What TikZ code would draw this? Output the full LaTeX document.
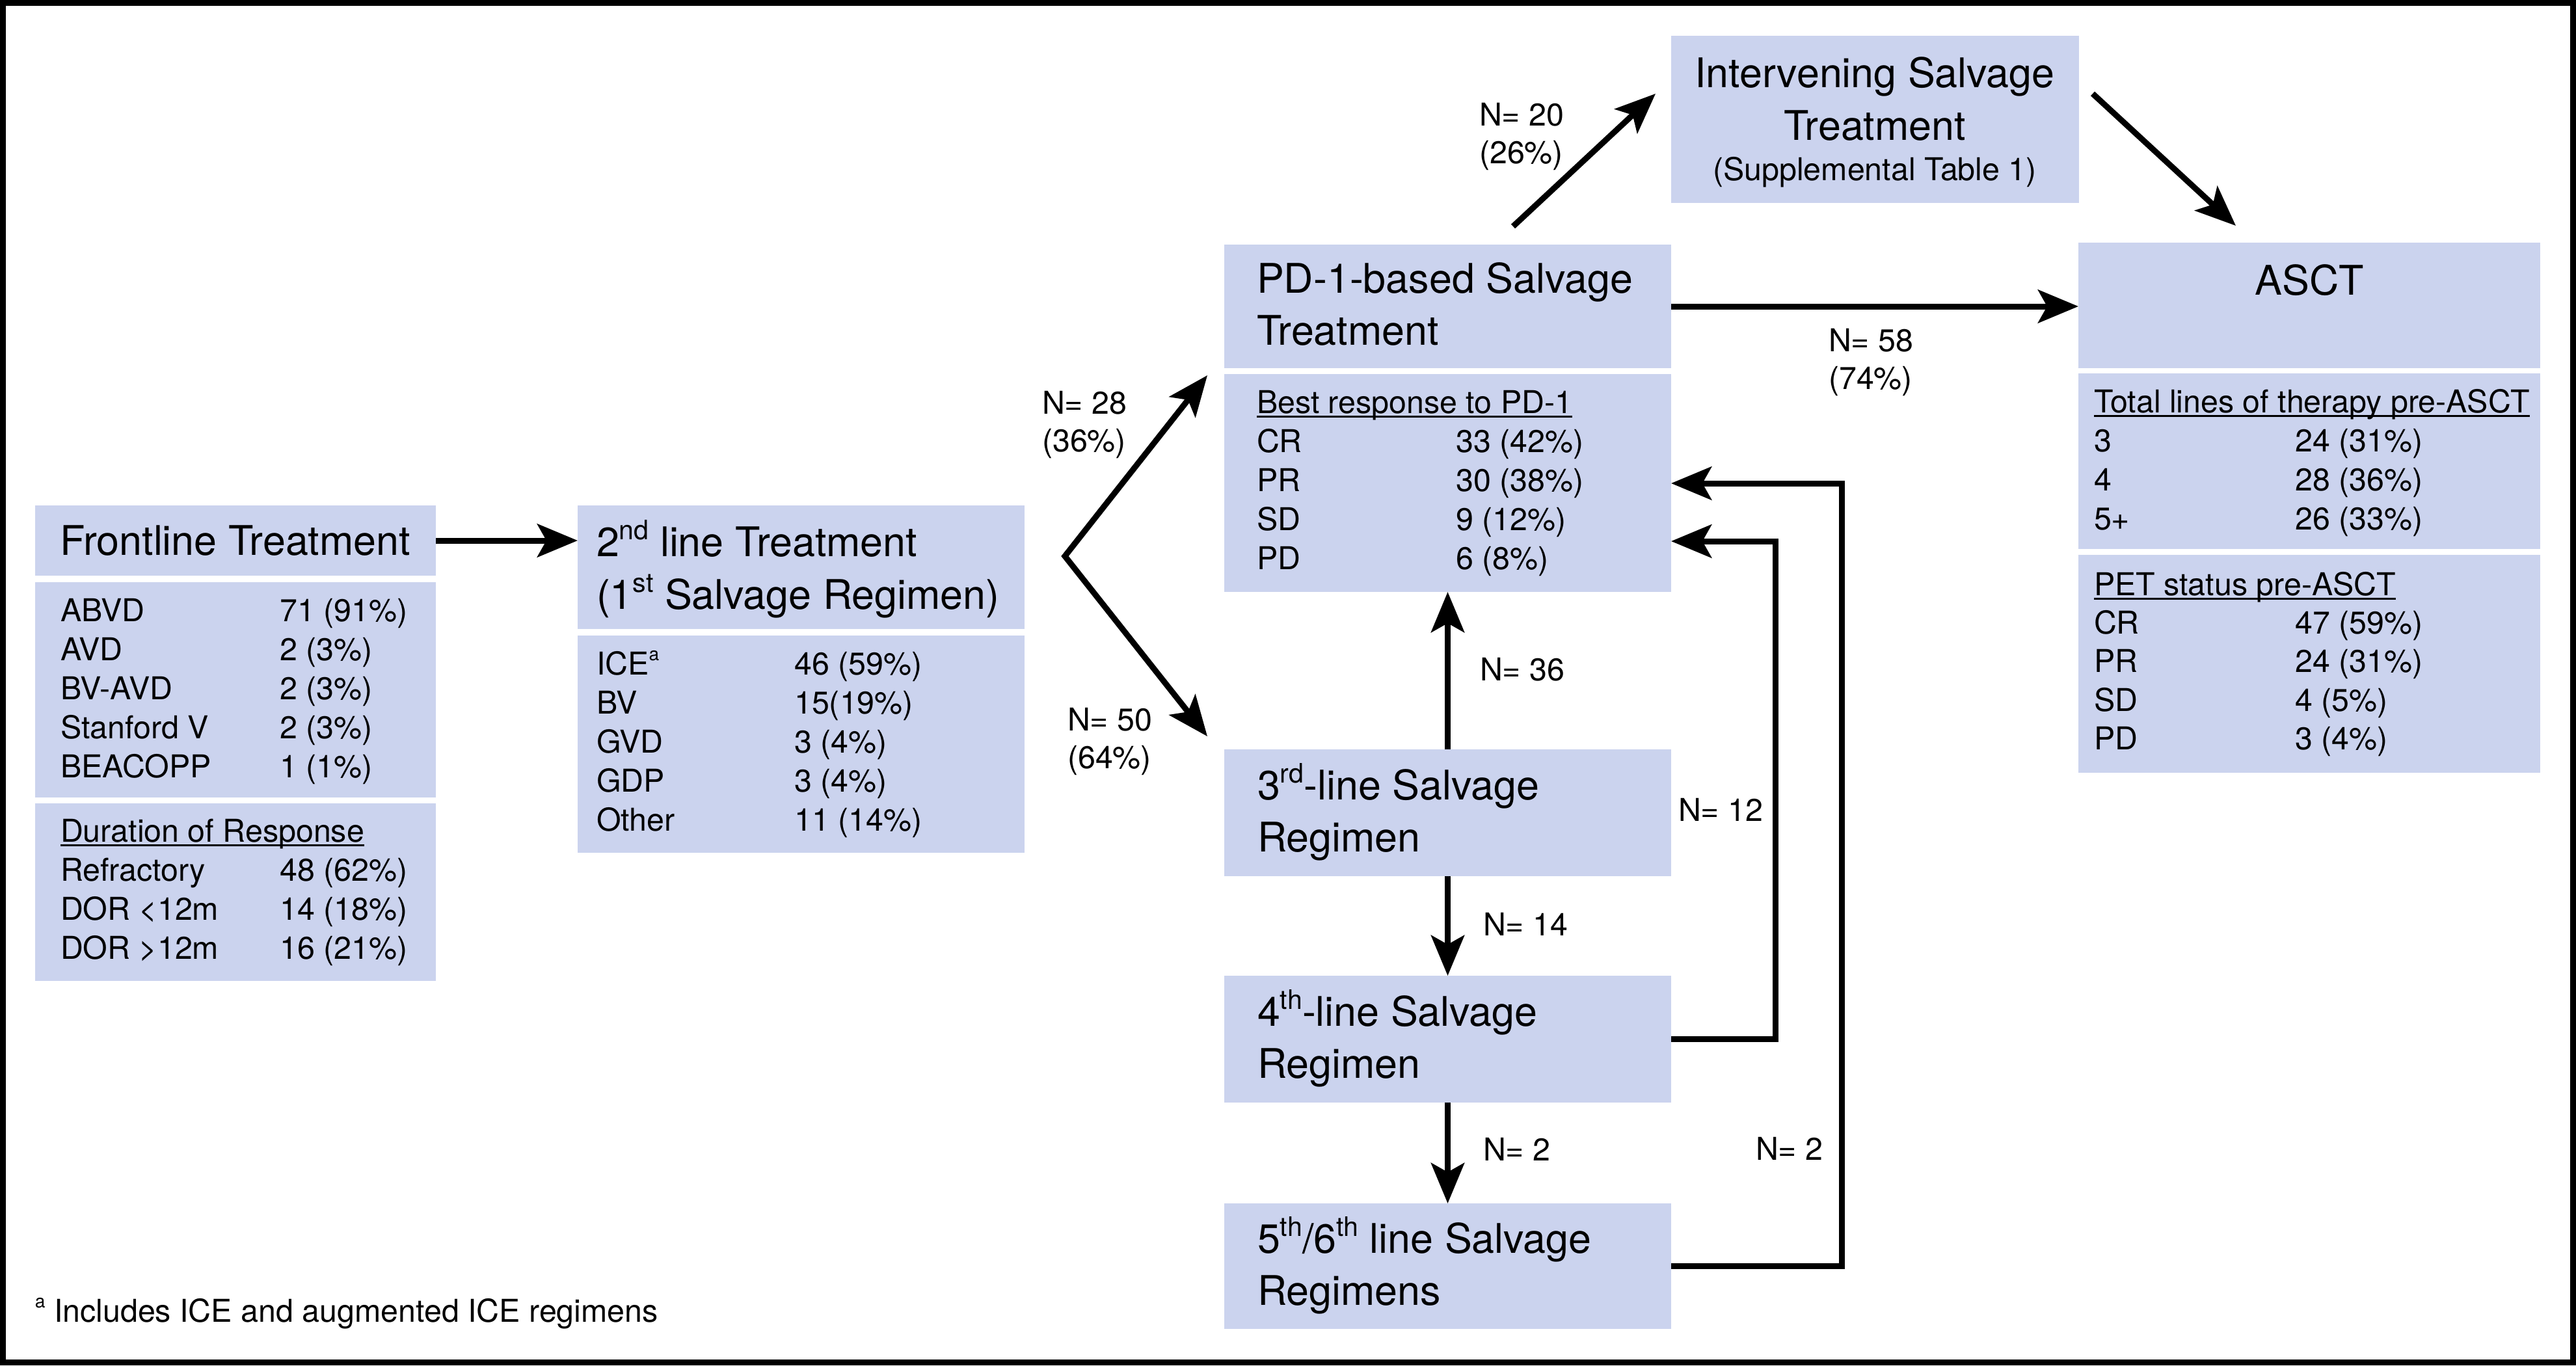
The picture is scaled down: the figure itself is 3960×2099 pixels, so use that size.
\documentclass[tikz,border=0pt]{standalone}
\usepackage{fontspec}
\setmainfont{TeX Gyre Heros}
\usetikzlibrary{arrows.meta,fit,calc}
\definecolor{boxc}{RGB}{203,211,238}
\newcommand\ttl{\fontsize{17.85pt}{21pt}\selectfont}
\newcommand\bdy{\fontsize{13.75pt}{16pt}\selectfont}
\newcommand\sups[1]{\raisebox{0.26cm}{\fontsize{11.7pt}{12pt}\selectfont #1}}
\newcommand\supb[1]{\raisebox{0.22cm}{\fontsize{8pt}{9pt}\selectfont #1}}
\newsavebox\ulbox
\newcommand\uln[1]{\sbox\ulbox{#1}\rlap{\rule[-0.065cm]{\wd\ulbox}{0.03cm}}\usebox\ulbox}
\newcommand\rw[3]{\makebox[#1][l]{#2}#3}
\tikzset{bigtip/.tip={Stealth[length=0.62cm,width=0.51cm,inset=0.14cm]}}
\begin{document}
\begin{tikzpicture}[x=0.01cm,y=-0.01cm,
  box/.style={fill=boxc,draw=none,inner sep=0,outer sep=0},
  tt/.style={inner sep=0,outer sep=0,anchor=base west,font=\ttl},
  bd/.style={inner sep=0,outer sep=0,anchor=base west,font=\bdy},
  ln/.style={line width=0.09cm,line join=miter},
  arr/.style={ln,-bigtip}]
\useasboundingbox (0,0) rectangle (3960,2099);
% boxes
\node[box,fit={(54,777)(670,885)}] (flh) {};
\node[box,fit={(54,895)(670,1226)}] (fld) {};
\node[box,fit={(54,1235)(670,1508)}] (fldor) {};
\node[box,fit={(888,777)(1575,967)}] (slh) {};
\node[box,fit={(888,977)(1575,1311)}] (sld) {};
\node[box,fit={(1882,376)(2569,566)}] (pdh) {};
\node[box,fit={(1882,575)(2569,910)}] (pdd) {};
\node[box,fit={(2569,55)(3196,312)}] (ivh) {};
\node[box,fit={(3195,373)(3905,566)}] (ash) {};
\node[box,fit={(3195,574)(3905,844)}] (asd) {};
\node[box,fit={(3195,853)(3905,1188)}] (asp) {};
\node[box,fit={(1882,1152)(2569,1347)}] (l3) {};
\node[box,fit={(1882,1500)(2569,1695)}] (l4) {};
\node[box,fit={(1882,1850)(2569,2043)}] (l5) {};
% frontline
\node[tt] (flt) at (92,853) {Frontline Treatment};
\node[bd] (fl1) at (93,955) {\rw{3.37cm}{ABVD}{71 (91\%)}};
\node[bd] (fl2) at (93,1015) {\rw{3.37cm}{AVD}{2 (3\%)}};
\node[bd] (fl3) at (93,1075) {\rw{3.37cm}{BV-AVD}{2 (3\%)}};
\node[bd] (fl4) at (93,1135) {\rw{3.37cm}{Stanford V}{2 (3\%)}};
\node[bd] (fl5) at (93,1195) {\rw{3.37cm}{BEACOPP}{1 (1\%)}};
\node[bd] (fl6) at (93,1294) {\uln{Duration of Response}};
\node[bd] (fl7) at (93,1354) {\rw{3.37cm}{Refractory}{48 (62\%)}};
\node[bd] (fl8) at (93,1414) {\rw{3.37cm}{DOR <12m}{14 (18\%)}};
\node[bd] (fl9) at (93,1474) {\rw{3.37cm}{DOR >12m}{16 (21\%)}};
% second line
\node[tt] (slt1) at (917,855) {2\sups{nd} line Treatment};
\node[tt] (slt2) at (917,936) {(1\sups{st} Salvage Regimen)};
\node[bd] (sl1) at (917,1037) {\rw{3.04cm}{ICE\supb{a}}{46 (59\%)}};
\node[bd] (sl2) at (917,1097) {\rw{3.04cm}{BV}{15(19\%)}};
\node[bd] (sl3) at (917,1157) {\rw{3.04cm}{GVD}{3 (4\%)}};
\node[bd] (sl4) at (917,1217) {\rw{3.04cm}{GDP}{3 (4\%)}};
\node[bd] (sl5) at (917,1277) {\rw{3.04cm}{Other}{11 (14\%)}};
% PD-1
\node[tt] (pdt1) at (1932,450) {PD-1-based Salvage};
\node[tt] (pdt2) at (1932,530) {Treatment};
\node[bd] (pd0) at (1932,635) {\uln{Best response to PD-1}};
\node[bd] (pd1) at (1932,695) {\rw{3.06cm}{CR}{33 (42\%)}};
\node[bd] (pd2) at (1932,755) {\rw{3.06cm}{PR}{30 (38\%)}};
\node[bd] (pd3) at (1932,815) {\rw{3.06cm}{SD}{9 (12\%)}};
\node[bd] (pd4) at (1932,875) {\rw{3.06cm}{PD}{6 (8\%)}};
% intervening
\node[tt,anchor=base] (ivt1) at (2882,134) {Intervening Salvage};
\node[tt,anchor=base] (ivt2) at (2882,215) {Treatment};
\node[bd,anchor=base] (ivt3) at (2882,277) {(Supplemental Table 1)};
% ASCT
\node[tt,anchor=base] (ast) at (3550,453) {ASCT};
\node[bd] (as0) at (3219,634) {\uln{Total lines of therapy pre-ASCT}};
\node[bd] (as1) at (3219,694) {\rw{3.09cm}{3}{24 (31\%)}};
\node[bd] (as2) at (3219,754) {\rw{3.09cm}{4}{28 (36\%)}};
\node[bd] (as3) at (3219,814) {\rw{3.09cm}{5+}{26 (33\%)}};
\node[bd] (ap0) at (3219,915) {\uln{PET status pre-ASCT}};
\node[bd] (ap1) at (3219,974) {\rw{3.09cm}{CR}{47 (59\%)}};
\node[bd] (ap2) at (3219,1033) {\rw{3.09cm}{PR}{24 (31\%)}};
\node[bd] (ap3) at (3219,1093) {\rw{3.09cm}{SD}{4 (5\%)}};
\node[bd] (ap4) at (3219,1152) {\rw{3.09cm}{PD}{3 (4\%)}};
% salvage lines
\node[tt] (l3a) at (1933,1229) {3\sups{rd}-line Salvage};
\node[tt] (l3b) at (1933,1309) {Regimen};
\node[tt] (l4a) at (1933,1577) {4\sups{th}-line Salvage};
\node[tt] (l4b) at (1933,1657) {Regimen};
\node[tt] (l5a) at (1933,1926) {5\sups{th}/6\sups{th} line Salvage};
\node[tt] (l5b) at (1933,2006) {Regimens};
% connectors
\draw[arr] (flh.east) -- (flh.east -| slh.west);
\coordinate (split) at (1637,855);
\coordinate (upt) at (1856,577);
\coordinate (dnt) at (1856,1132);
\draw[ln,bigtip-bigtip] (upt) -- (split) -- (dnt);
\coordinate (ivs) at (2326,348);
\coordinate (ive) at (2545,144);
\draw[arr] (ivs) -- (ive);
\coordinate (avs) at (3217,144);
\coordinate (ave) at (3437,347);
\draw[arr] (avs) -- (ave);
\draw[arr] (pdh.east) -- (pdh.east -| ash.west);
\draw[arr] (l3.north) -- (pdd.south);
\draw[arr] (l3.south) -- (l4.north);
\draw[arr] (l4.south) -- (l5.north);
\coordinate (k12) at (2729,832);
\coordinate (k2) at (2831,743);
\draw[arr] (l4.east) -| (k12) -- (k12 -| pdd.east);
\draw[arr] (l5.east) -| (k2) -- (k2 -| pdd.east);
% labels
\node[bd] (n20a) at (2274,193) {N= 20};
\node[bd] (n20b) at (2274,251) {(26\%)};
\node[bd] (n28a) at (1602,636) {N= 28};
\node[bd] (n28b) at (1602,694) {(36\%)};
\node[bd] (n50a) at (1641,1123) {N= 50};
\node[bd] (n50b) at (1641,1181) {(64\%)};
\node[bd] (n58a) at (2811,540) {N= 58};
\node[bd] (n58b) at (2811,598) {(74\%)};
\node[bd] (n36) at (2275,1046) {N= 36};
\node[bd] (n14) at (2280,1438) {N= 14};
\node[bd] (n2a) at (2280,1784) {N= 2};
\node[bd] (n12) at (2580,1262) {N= 12};
\node[bd] (n2b) at (2699,1783) {N= 2};
% footnote
\node[bd] (fn) at (54,2032) {\supb{a} Includes ICE and augmented ICE regimens};
% frame
\draw[line width=0.09cm] (4.5,4.5) rectangle (3955.5,2094.5);
\end{tikzpicture}
\end{document}
